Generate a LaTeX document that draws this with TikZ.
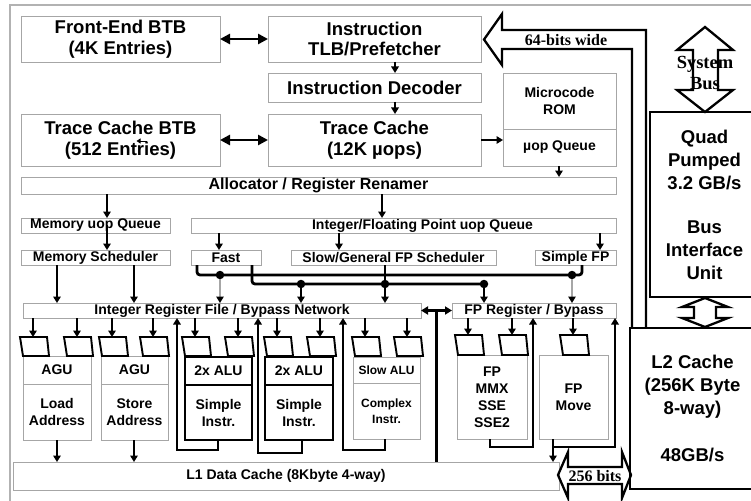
\documentclass[tikz,border=0pt]{standalone}
\usepackage{fontspec}
\setmainfont{Liberation Sans}
\newfontfamily\tms{Liberation Serif}
\usetikzlibrary{arrows.meta,calc}
\newcommand\fA{\fontsize{18.5}{20.5}\selectfont\bfseries}
\newcommand\fB{\fontsize{16}{18}\selectfont\bfseries}
\newcommand\fC{\fontsize{14}{17}\selectfont\bfseries}
\newcommand\fD{\fontsize{12}{16.5}\selectfont\bfseries}
\newcommand\fBIU{\fontsize{18.5}{23}\selectfont\bfseries}
\newcommand\fT{\fontsize{16}{18}\selectfont\bfseries\tms}
\newcommand\rbox[7]{\node[#6,anchor=north west,minimum width={#4-#2},minimum height={#5-#3}] (#1) at (#2,#3) {#7};}
\newcommand\vard[4]{\draw[#1] (#2) ++(#3,0) coordinate (tmp) -- (tmp |- #4);}
\begin{document}
\begin{tikzpicture}[x=1pt,y=-1pt,
 bx/.style={draw=gray!70,line width=0.9pt,inner sep=0pt,outer sep=0pt,align=center,fill=white,text=black},
 tbx/.style={bx,draw=black,line width=2pt},
 kbx/.style={bx,draw=black,line width=2.6pt},
 arr/.style={line width=1.9pt,-{Triangle[length=6.5pt,width=7.5pt]}},
 garr/.style={draw=gray!70,line width=1.3pt,-{Triangle[length=6.5pt,width=7.5pt,color=black]}},
 darr/.style={line width=2.8pt,{Triangle[length=10pt,width=10pt]}-{Triangle[length=10pt,width=10pt]}},
 sdarr/.style={line width=2.4pt,{Triangle[length=7pt,width=8pt]}-{Triangle[length=7pt,width=8pt]}},
 bus/.style={line width=2.8pt,rounded corners=3pt},
 dot/.style={circle,fill=black,inner sep=0pt,outer sep=0pt,minimum size=8.5pt},
 trap/.style={draw=black,line width=1.9pt,line join=miter},
 hol/.style={draw=black,line width=2.3pt,line join=miter}
]
\useasboundingbox (0,0) rectangle (751,500);
\draw[gray!60,line width=1.8pt] (10,502) -- (10,5) -- (753,5);

% front end
\rbox{feb}{21}{16}{220}{62}{bx,font=\fA}{Front-End BTB\\(4K Entries)}
\rbox{itlb}{268}{16}{481}{62}{bx,font=\fA}{Instruction\\TLB/Prefetcher}
\rbox{idec}{268}{73}{481}{102}{bx,font=\fA}{Instruction Decoder}
\rbox{tcbtb}{21}{114}{220}{166}{bx,font=\fA}{Trace Cache BTB\\(512 Entries)}
\rbox{tc}{268}{114}{481}{166}{bx,font=\fA}{Trace Cache\\(12K µops)}
\rbox{mrom}{503}{73}{616}{129}{bx,font=\fC}{Microcode\\ROM}
\rbox{uopq}{503}{129}{616}{166}{bx,font=\fC}{µop Queue}
\rbox{alloc}{21}{177}{616}{194}{bx,font=\fB}{Allocator / Register Renamer}
\rbox{memq}{21}{218}{170}{233}{bx,font=\fC}{Memory uop Queue}
\rbox{ifq}{191}{218}{616}{233}{bx,font=\fC}{}
\node[font=\fC,inner sep=0pt] (ifqt) at ($(ifq.center)+(19,0)$) {Integer/Floating Point uop Queue};
\rbox{msch}{21}{250}{170}{265}{bx,font=\fC}{Memory Scheduler}
\rbox{fast}{191}{250}{261}{265}{bx,font=\fC}{Fast}
\rbox{slow}{291}{250}{496}{265}{bx,font=\fC}{Slow/General FP Scheduler}
\rbox{sfp}{535}{250}{616}{265}{bx,font=\fC}{Simple FP}
\rbox{irf}{23}{303}{421}{318}{bx,font=\fC}{Integer Register File / Bypass Network}
\rbox{fprf}{452}{303}{616}{318}{bx,font=\fC}{FP Register / Bypass}

% execution units
\rbox{agua}{23}{356}{91}{384}{bx,font=\fC}{AGU}
\rbox{la}{23}{384}{91}{440}{bx,font=\fC}{Load\\Address}
\rbox{agub}{101}{356}{168}{384}{bx,font=\fC}{AGU}
\rbox{sa}{101}{384}{168}{440}{bx,font=\fC}{Store\\Address}
\rbox{alua}{185}{357}{252}{385}{tbx,font=\fC}{2x ALU}
\rbox{sia}{185}{385}{252}{440}{tbx,font=\fC}{Simple\\Instr.}
\rbox{alub}{265}{357}{333}{385}{tbx,font=\fC}{2x ALU}
\rbox{sib}{265}{385}{333}{440}{tbx,font=\fC}{Simple\\Instr.}
\rbox{salu}{353}{357}{420}{383}{bx,font=\fD}{Slow ALU}
\rbox{ci}{353}{383}{420}{439}{bx,font=\fD}{Complex\\Instr.}
\rbox{fpm}{457}{355}{527}{439}{bx,font=\fC}{FP\\MMX\\SSE\\SSE2}
\rbox{fpmv}{539}{355}{608}{439}{bx,font=\fC}{FP\\Move}
\rbox{lone}{13}{462}{559}{490}{bx,font=\fC}{L1 Data Cache (8Kbyte 4-way)}
\rbox{biu}{650}{112}{759}{297}{kbx,font=\fBIU}{Quad\\Pumped\\3.2 GB/s\\[21pt]Bus\\Interface\\Unit}
\rbox{ltwo}{630}{328}{755}{489}{kbx,font=\fBIU}{L2 Cache\\(256K Byte\\8-way)\\[24pt]48GB/s}

% front-end connectors
\draw[darr] (feb.east) -- (itlb.west);
\draw[darr] (tcbtb.east) -- (tc.west);
\draw[arr] (tc.east) -- (tc.east -| uopq.west);
\vard{arr}{itlb.south west}{127}{idec.north}
\vard{arr}{idec.south west}{127}{tc.north}
\draw[-{Triangle[length=4pt,width=5pt]},line width=1pt] ($(tcbtb.center)+(26,1)$) -- ($(tcbtb.center)+(16,1)$);
\vard{arr}{uopq.south west}{56}{alloc.north}
\vard{arr}{alloc.south west}{86}{memq.north}
\vard{arr}{alloc.south west}{361}{ifq.north}
\draw[arr] (memq.south west) ++(86,-8) coordinate (tmp) -- (tmp |- msch.north);
\vard{arr}{ifq.south west}{28}{fast.north}
\vard{arr}{ifq.south west}{148}{slow.north}
\vard{arr}{ifq.south west}{409}{sfp.north}
\vard{arr}{msch.south west}{36}{irf.north}
\vard{arr}{msch.south west}{113}{irf.north}

% dispatch buses
\node[dot] (d1) at (220,275) {};
\node[dot] (d2) at (572,275) {};
\node[dot] (d3) at (301,284) {};
\node[dot] (d4) at (385,284) {};
\node[dot] (d5) at (484,284) {};
\draw[bus] (fast.south west) ++(6,0) -- ++(0,10) -- ($(sfp.south west)+(47,10)$) -- ($(sfp.south west)+(47,0)$);
\draw[bus] (fast.south west) ++(61,0) -- ++(0,19) -- (d5.center);
\draw[bus] (slow.south west) ++(94,0) -- (d4.center);
\draw[garr] (d1) -- (d1 |- irf.north);
\draw[arr] (d3) -- (d3 |- irf.north);
\draw[arr] (d4) -- (d4 |- irf.north);
\draw[arr] (d5) -- (d5 |- fprf.north);
\draw[garr] (d2) -- (d2 |- fprf.north);

% register files to ports
\foreach \a in {33,77,112,153,195,238,277,320,365,407}{
  \draw[arr] (irf.south west) ++(\a-23,0) -- ++(0,19);
  \draw[trap] (\a-13,337) -- (\a+14,337) -- (\a+16,356) -- (\a-10,356) -- cycle;
}
\foreach \a in {468,512,573}{
  \draw[arr] (fprf.south west) ++(\a-452,0) -- ++(0,17);
  \draw[trap] (\a-13,335) -- (\a+14,335) -- (\a+16,355) -- (\a-10,355) -- cycle;
}
\draw[sdarr] (irf.east) -- (fprf.west);
\draw[line width=2.6pt] ($(irf.east)!0.5!(fprf.west)$) coordinate (tmp) -- (tmp |- lone.north);

% result feedback loops
\draw[arr] (sia.south west) ++(33,0) -- ++(0,10) -- ++(-41,0) coordinate (tmp) -- (tmp |- irf.south);
\draw[arr] (sib.south west) ++(37,0) -- ++(0,13) -- ++(-44,0) coordinate (tmp) -- (tmp |- irf.south);
\draw[arr] (ci.south west) ++(32,0) -- ++(0,11) -- ++(-42,0) coordinate (tmp) -- (tmp |- irf.south);
\draw[arr] (fpm.south west) ++(33,0) -- ++(0,8) -- ++(43,0) coordinate (tmp) -- (tmp |- fprf.south);
\draw[arr] (fpmv.south west) ++(14,0) -- ++(0,8) -- ++(62,0) coordinate (tmp) -- (tmp |- fprf.south);
\vard{arr}{fpmv.south west}{14}{lone.north}
\vard{arr}{la.south west}{34}{lone.north}
\vard{arr}{sa.south west}{33}{lone.north}

% wide hollow arrows
\draw[hol] (632,328) -- (632,49) -- (502,49) -- (502,65) -- (484,39.5) -- (502,14) -- (502,30) -- (646,30) -- (646,328);
\node[font=\fT,inner sep=0pt] (w64) at (566,40) {64-bits wide};
\draw[hol] (705,27) -- (733,50) -- (718,50) -- (718,90) -- (733,90) -- (705,112) -- (677,90) -- (693,90) -- (693,50) -- (677,50) -- cycle;
\node[font=\fontsize{18.5}{21}\selectfont\bfseries\tms,align=center,inner sep=0pt] (sysb) at (705,73) {System\\Bus};
\draw[hol] (705,298) -- (728,307) -- (716,307) -- (716,318) -- (728,318) -- (705,327) -- (682,318) -- (694,318) -- (694,307) -- (682,307) -- cycle;
\draw[hol] (558,475) -- (568,452) -- (568,467) -- (622,467) -- (622,452) -- (631,475) -- (622,498) -- (622,484) -- (568,484) -- (568,498) -- cycle;
\node[font=\fT,inner sep=0pt] (b256) at (595,476) {256 bits};
\end{tikzpicture}
\end{document}
